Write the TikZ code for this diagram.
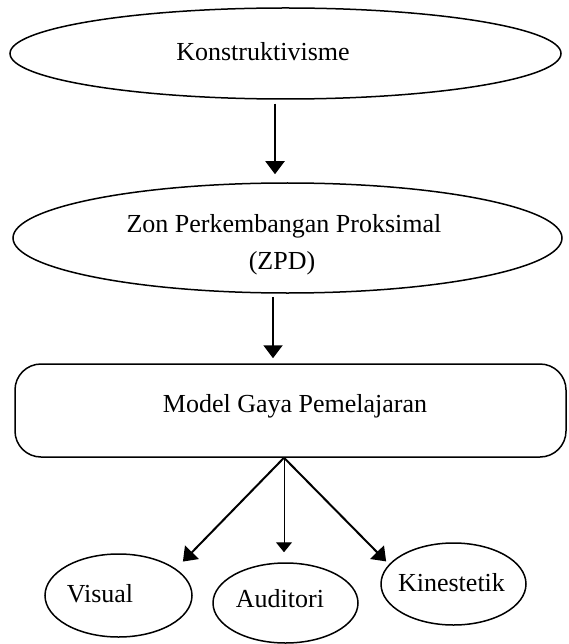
\documentclass[tikz,border=0pt]{standalone}
\usepackage{fontspec}
\setmainfont{Liberation Serif}
\usetikzlibrary{shapes.geometric,arrows.meta,calc}
\begin{document}
\begin{tikzpicture}[x=1pt,y=-1pt,
  oval/.style={draw,ellipse,line width=1.5pt,inner sep=0pt},
  boxed/.style={draw,rectangle,rounded corners=26pt,line width=1.5pt,inner sep=0pt},
  txt/.style={anchor=base,inner sep=0pt,font=\fontsize{26}{36}\selectfont},
  arr/.style={line width=2pt,-{Triangle[width=19pt,length=13pt]}},
  thinarr/.style={line width=1pt,-{Triangle[width=16pt,length=10pt]}}]
\useasboundingbox (0,0) rectangle (568,644);
% shapes
\node[oval,minimum width=551pt,minimum height=91pt] (e1) at (285.5,53.5) {};
\node[oval,minimum width=549pt,minimum height=110pt] (e2) at (287.5,238) {};
\node[boxed,minimum width=551pt,minimum height=93pt] (rect) at (290.5,410.5) {};
\node[oval,minimum width=147pt,minimum height=83pt] (vis) at (118.5,595.5) {};
\node[oval,minimum width=145pt,minimum height=80pt] (aud) at (285.5,603) {};
\node[oval,minimum width=145pt,minimum height=82pt] (kin) at (453.5,584) {};
% texts
\node[txt] (t1) at (263,61) {Konstruktivisme};
\node[txt] (t2a) at (284,233) {Zon Perkembangan Proksimal};
\node[txt] (t2b) at (282,269) {(ZPD)};
\node[txt] (t3) at (295,412) {Model Gaya Pemelajaran};
\node[txt] (t4) at (100,602) {Visual};
\node[txt] (t5) at (280,607) {Auditori};
\node[txt] (t6) at (451.5,591) {Kinestetik};
% connectors
\coordinate (ax1) at (275,0);
\coordinate (ax2) at (273,0);
\coordinate (hub) at ([xshift=-6.5pt]rect.south);
\draw[arr,shorten <=4pt,shorten >=8pt] (e1.south -| ax1) -- (e2.north -| ax1);
\draw[arr,shorten <=3pt,shorten >=5pt] (e2.south -| ax2) -- (rect.north -| ax2);
\draw[arr,shorten >=10pt] (hub) -- (vis.25);
\draw[arr,shorten >=4pt] (hub) -- (kin.163);
\draw[thinarr,shorten >=10pt] (hub) -- (hub |- aud.north);
\end{tikzpicture}
\end{document}
